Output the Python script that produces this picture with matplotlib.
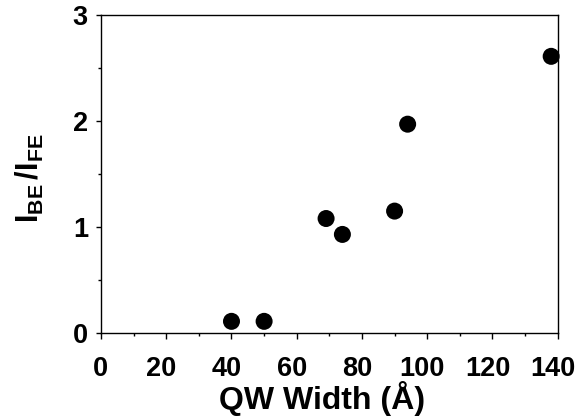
import matplotlib
matplotlib.use("Agg")
import matplotlib.pyplot as plt
import matplotlib.transforms as mtransforms
from matplotlib.ticker import MultipleLocator

# QW width (Angstrom) vs intensity ratio I_BE / I_FE
qw_width = [40, 50, 69, 74, 90, 94, 138]
ratio = [0.11, 0.11, 1.08, 0.93, 1.15, 1.97, 2.61]

plt.rcParams['font.family'] = ['Liberation Sans', 'DejaVu Sans']
plt.rcParams['font.weight'] = 'bold'
plt.rcParams['mathtext.fontset'] = 'custom'
plt.rcParams['mathtext.rm'] = 'Liberation Sans:bold'
plt.rcParams['mathtext.bf'] = 'Liberation Sans:bold'
plt.rcParams['mathtext.it'] = 'Liberation Sans:bold'

W, H = 577, 418
fig = plt.figure(figsize=(W / 100, H / 100), dpi=100)
ax = fig.add_axes([101 / W, 1 - 333 / H, 456.7 / W, 318 / H])

ax.scatter(qw_width, ratio, s=150, color='black', edgecolors='none', clip_on=False, zorder=3)

ax.set_xlim(0, 140)
ax.set_ylim(0, 3)
ax.xaxis.set_major_locator(MultipleLocator(20))
ax.xaxis.set_minor_locator(MultipleLocator(10))
ax.yaxis.set_major_locator(MultipleLocator(1))
ax.yaxis.set_minor_locator(MultipleLocator(0.5))
ax.tick_params(which='both', direction='out', top=False, right=False, width=1)
ax.tick_params(axis='x', which='major', length=4.3, pad=12, labelsize=19.5)
ax.tick_params(axis='y', which='major', length=3.6, pad=5.8, labelsize=19.5)
ax.tick_params(which='minor', length=2.2)
for sp in ax.spines.values():
    sp.set_linewidth(1)

fig.canvas.draw()
for lbl in ax.get_xticklabels() + ax.get_yticklabels():
    lbl.set_fontweight('bold')
# x tick labels in the original sit slightly left of their ticks
for tick in ax.xaxis.get_major_ticks():
    dx = -1 if tick.get_loc() == 0 else -5
    off = mtransforms.ScaledTranslation(dx / 100, 0, fig.dpi_scale_trans)
    tick.label1.set_transform(tick.label1.get_transform() + off)

fig.text(322.5 / W, 9 / H, 'QW Width (Å)', fontsize=23, fontweight='bold',
         ha='center', va='baseline')
fig.text(30 / W, 1 - 178.5 / H, r'$\mathrm{I_{BE}\,/I_{FE}}$', fontsize=22,
         rotation=90, ha='center', va='center')

fig.savefig('out.png', dpi=100)
